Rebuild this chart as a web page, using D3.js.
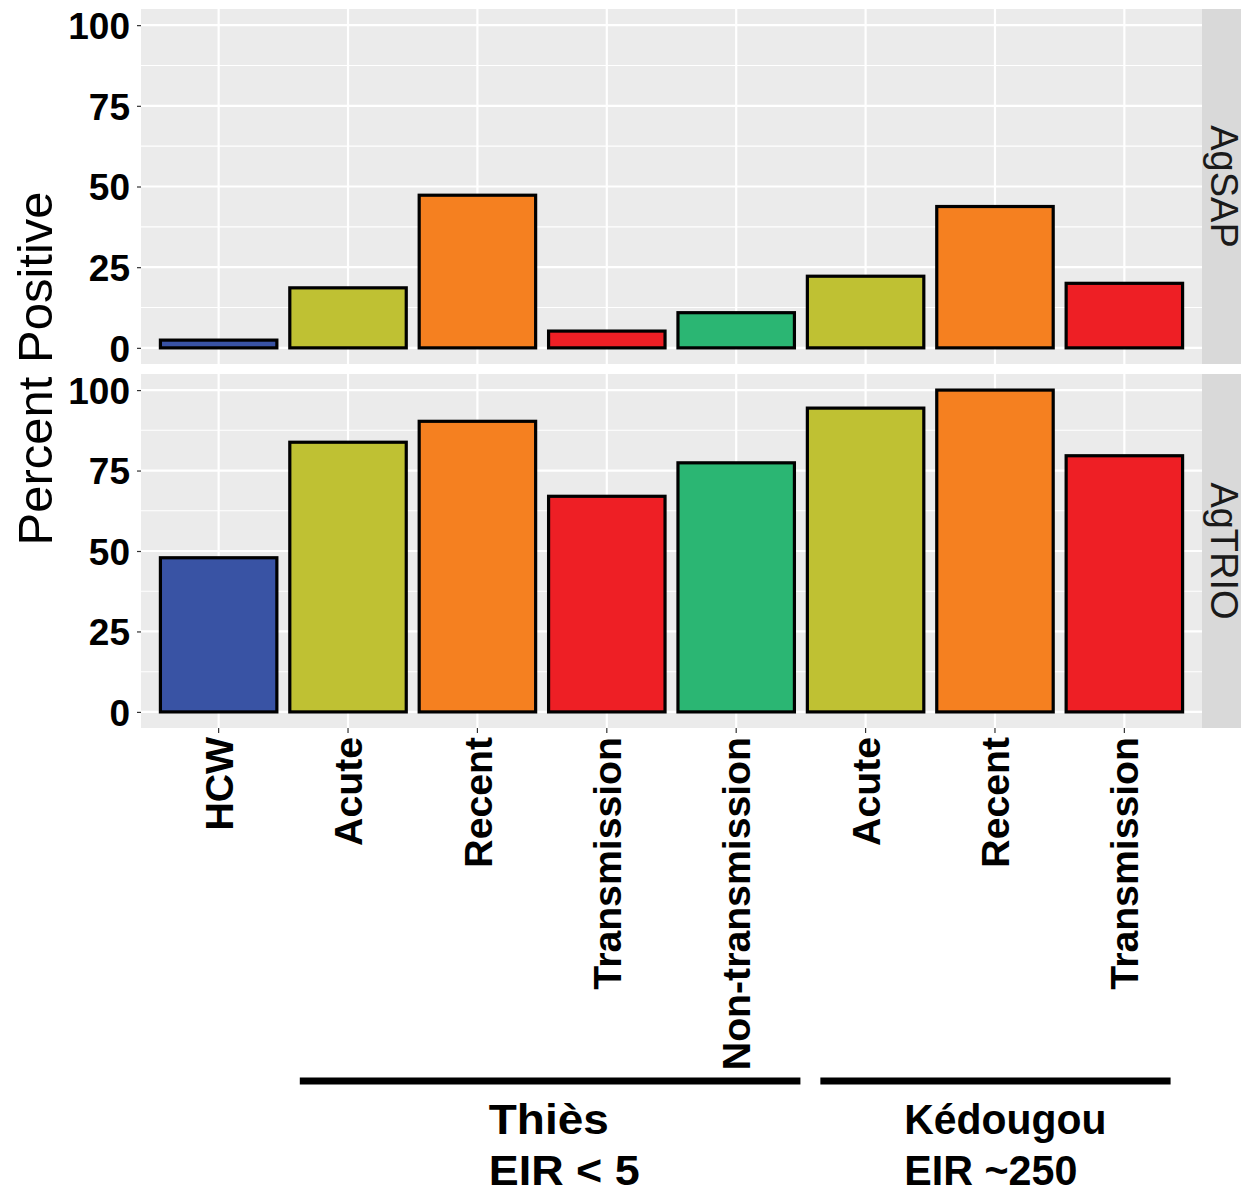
<!DOCTYPE html>
<html>
<head>
<meta charset="utf-8">
<script src="https://cdn.jsdelivr.net/npm/d3@7"></script>
<style>
  body { margin: 0; background: #fff; }
  svg { display: block; }
</style>
</head>
<body>
<div id="chart"></div>
<script>
// data
const catIds = ["HCW", "T_Acute", "T_Recent", "T_Trans", "T_NonTrans", "K_Acute", "K_Recent", "K_Trans"];
const catLabels = ["HCW", "Acute", "Recent", "Transmission", "Non-transmission", "Acute", "Recent", "Transmission"];
const agSAP = [2.4, 18.6, 47.3, 5.2, 10.9, 22.2, 43.8, 20.0];
const agTRIO = [47.9, 83.8, 90.3, 67.0, 77.4, 94.4, 100, 79.6];
const panelNames = ["AgSAP", "AgTRIO"];
const yTicks = [0, 25, 50, 75, 100];
const yMinor = [12.5, 37.5, 62.5, 87.5];
const groupNames = ["Thiès", "Kédougou"];
const groupEIR = ["EIR < 5", "EIR ~250"];
const groupFirst = ["T_Acute", "K_Acute"];
const groupLast = ["T_NonTrans", "K_Trans"];

const statusNames = ["HCW", "Acute", "Recent", "Transmission", "Non-transmission"];
const statusColors = ["#3953A4", "#BFC133", "#F58020", "#EE1F25", "#2BB673"];

const W = 1241, H = 1196;
const left = 141, right = 1202;
const panelBox = [{top: 9, bottom: 364}, {top: 374, bottom: 728}];

const svg = d3.select("#chart").append("svg")
  .attr("width", W).attr("height", H)
  .style("font-family", "'Liberation Sans', Arial, sans-serif");

const x = d3.scaleBand().domain(catIds).range([left, right])
  .paddingInner(0.1).paddingOuter(0.15);
const color = d3.scaleOrdinal().domain(statusNames).range(statusColors);

const panelData = [agSAP, agTRIO];

panelBox.forEach((pb, pi) => {
  const y = d3.scaleLinear().domain([-5, 105]).range([pb.bottom, pb.top]);
  const g = svg.append("g");

  g.append("rect")
    .attr("x", left).attr("y", pb.top)
    .attr("width", right - left).attr("height", pb.bottom - pb.top)
    .attr("fill", "#EBEBEB");

  // minor gridlines
  g.selectAll(".minor").data(yMinor).join("line")
    .attr("x1", left).attr("x2", right)
    .attr("y1", d => y(d)).attr("y2", d => y(d))
    .attr("stroke", "#fff").attr("stroke-width", 1.1);
  // major gridlines
  g.selectAll(".major").data(yTicks).join("line")
    .attr("x1", left).attr("x2", right)
    .attr("y1", d => y(d)).attr("y2", d => y(d))
    .attr("stroke", "#fff").attr("stroke-width", 2.2);
  g.selectAll(".vmajor").data(catIds).join("line")
    .attr("x1", d => x(d) + x.bandwidth() / 2).attr("x2", d => x(d) + x.bandwidth() / 2)
    .attr("y1", pb.top).attr("y2", pb.bottom)
    .attr("stroke", "#fff").attr("stroke-width", 2.2);

  // bars
  g.selectAll(".bar").data(panelData[pi]).join("rect")
    .attr("x", (d, i) => x(catIds[i]))
    .attr("width", x.bandwidth())
    .attr("y", d => y(d))
    .attr("height", d => y(0) - y(d))
    .attr("fill", (d, i) => color(catLabels[i]))
    .attr("stroke", "#000").attr("stroke-width", 3.2);

  // y axis
  const yAxis = d3.axisLeft(y).tickValues(yTicks).tickSize(4).tickPadding(7);
  const ya = g.append("g").attr("transform", `translate(${left},0)`).call(yAxis);
  ya.select(".domain").remove();
  ya.selectAll(".tick line").attr("stroke", "#333").attr("stroke-width", 1.2);
  ya.selectAll(".tick text")
    .attr("font-size", 37).attr("font-weight", "bold").attr("fill", "#000")
    .attr("dy", "0.36em");

  // strip
  g.append("rect")
    .attr("x", right).attr("y", pb.top)
    .attr("width", 45).attr("height", pb.bottom - pb.top)
    .attr("fill", "#D9D9D9");
  g.append("text")
    .attr("transform", `translate(${right + 9},${(pb.top + pb.bottom) / 2}) rotate(90)`)
    .attr("text-anchor", "middle")
    .attr("font-size", 38).attr("fill", "#1A1A1A")
    .text(panelNames[pi]);
});

// x axis under the lower panel
const xAxis = d3.axisBottom(x).tickSize(5).tickFormat((d, i) => catLabels[i]);
const xa = svg.append("g").attr("transform", `translate(0,${panelBox[1].bottom})`).call(xAxis);
xa.select(".domain").remove();
xa.selectAll(".tick line").attr("stroke", "#333").attr("stroke-width", 1.2);
xa.selectAll(".tick text")
  .attr("font-size", 39.2).attr("font-weight", "bold").attr("fill", "#000")
  .attr("text-anchor", "end")
  .attr("transform", "translate(0,9) rotate(-90)")
  .attr("x", 0).attr("y", 0).attr("dy", "0.36em");

// y title
svg.append("text")
  .attr("transform", `translate(52,${(panelBox[0].top + panelBox[1].bottom) / 2}) rotate(-90)`)
  .attr("text-anchor", "middle")
  .attr("font-size", 49).attr("fill", "#000")
  .text("Percent Positive");

// site groups
const groupStart = [x(groupFirst[0]) + 10, x(groupFirst[1]) + 13];
const groupEnd = [x(groupLast[0]) + x.bandwidth() + 6, x(groupLast[1]) + x.bandwidth() - 12];
groupNames.forEach((name, gi) => {
  svg.append("line")
    .attr("x1", groupStart[gi]).attr("x2", groupEnd[gi])
    .attr("y1", 1081).attr("y2", 1081)
    .attr("stroke", "#000").attr("stroke-width", 7);
  const cx = gi === 0 ? groupStart[gi] + 189 : groupStart[gi] + 84;
  const t = svg.append("text")
    .attr("x", cx).attr("font-size", 42).attr("font-weight", "bold").attr("fill", "#000");
  t.append("tspan").attr("x", cx).attr("y", 1134)
    .attr("textLength", gi === 0 ? 120 : 202).attr("lengthAdjust", "spacingAndGlyphs").text(name);
  t.append("tspan").attr("x", cx).attr("y", 1185)
    .attr("textLength", gi === 0 ? 151 : 173).attr("lengthAdjust", "spacingAndGlyphs").text(groupEIR[gi]);
});
</script>
</body>
</html>
